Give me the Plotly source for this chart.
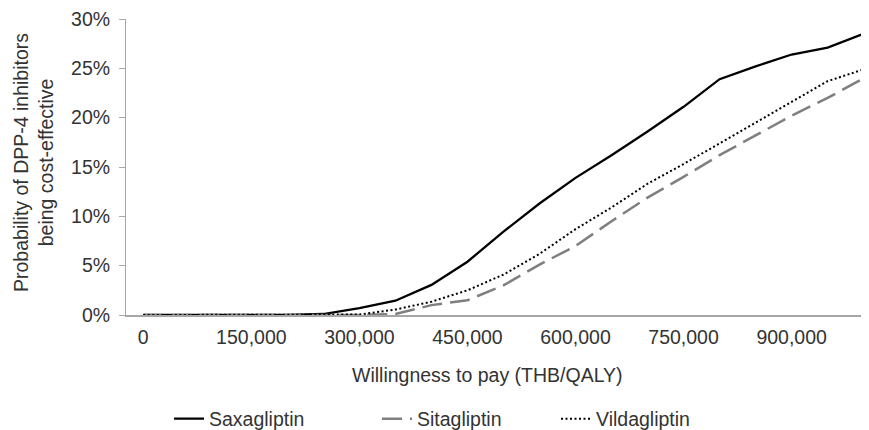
import plotly.graph_objects as go

wtp = [0, 50000, 100000, 150000, 200000, 250000, 300000, 350000, 400000, 450000,
       500000, 550000, 600000, 650000, 700000, 750000, 800000, 850000, 900000,
       950000, 1000000]
saxagliptin = [0, 0, 0, 0, 0, 0.1, 0.7, 1.45, 3.05, 5.4, 8.45, 11.3, 13.9, 16.2,
               18.6, 21.1, 23.9, 25.2, 26.4, 27.1, 28.5]
sitagliptin = [0, 0, 0, 0, 0, 0, 0, 0.1, 1.0, 1.5, 3.0, 5.1, 7.0, 9.5, 11.9,
               14.0, 16.2, 18.2, 20.2, 22.0, 24.0]
vildagliptin = [0, 0, 0, 0, 0, 0, 0.05, 0.55, 1.35, 2.5, 4.1, 6.2, 8.7, 10.9,
                13.3, 15.3, 17.4, 19.5, 21.6, 23.7, 24.9]
x_ticks = [0, 150000, 300000, 450000, 600000, 750000, 900000]
x_tick_labels = ["0", "150,000", "300,000", "450,000", "600,000", "750,000", "900,000"]
y_ticks = [0, 5, 10, 15, 20, 25, 30]
y_tick_labels = ["0%", "5%", "10%", "15%", "20%", "25%", "30%"]

FONT = "Liberation Sans, Arial, sans-serif"
TXT = "#333333"
AX = "#a6a6a6"

# page body has an 8px margin, so the figure is 8px smaller than the window
W, H = 861, 422
L, T, B = 118, 11, 115
PW, PH = W - L, H - T - B

fig = go.Figure()
fig.add_trace(go.Scatter(x=wtp, y=saxagliptin, mode="lines", name="Saxagliptin",
                         legend="legend",
                         line=dict(color="#000000", width=2.3)))
fig.add_trace(go.Scatter(x=wtp, y=sitagliptin, mode="lines", name="Sitagliptin",
                         legend="legend2",
                         line=dict(color="#7f7f7f", width=2.5, dash="20px,8px")))
fig.add_trace(go.Scatter(x=wtp, y=vildagliptin, mode="lines", name="Vildagliptin",
                         legend="legend3",
                         line=dict(color="#000000", width=2, dash="2px,2.5px")))


def leg(xpx):
    return dict(orientation="h", xref="container", yref="container",
                x=xpx / W, xanchor="left", y=1 - 411 / H, yanchor="middle",
                font=dict(size=19.5, color=TXT), bgcolor="rgba(0,0,0,0)")


fig.update_layout(
    width=W, height=H,
    margin=dict(l=L, r=0, t=T, b=B, autoexpand=False),
    paper_bgcolor="white", plot_bgcolor="white",
    font=dict(family=FONT, size=19.5, color=TXT),
    showlegend=True,
    legend=leg(161), legend2=leg(369), legend3=leg(548),
    xaxis=dict(range=[-24000, 1007400], tickvals=x_ticks, ticktext=x_tick_labels,
               showgrid=False, zeroline=False, showline=True, linecolor=AX,
               linewidth=1.5, ticks="", ticklabelstandoff=4, automargin=False,
               tickfont=dict(size=19.5, color=TXT)),
    yaxis=dict(range=[0, 30], tickvals=y_ticks, ticktext=y_tick_labels,
               showgrid=False, zeroline=False, showline=True, linecolor=AX,
               linewidth=1, ticks="outside", ticklen=6, tickcolor=AX,
               ticklabelstandoff=5, automargin=False, ticklabeloverflow="allow",
               tickfont=dict(size=19.5, color=TXT)),
)

fig.add_annotation(text="Willingness to pay (THB/QALY)", xref="paper", yref="paper",
                   x=(487 - 126) / PW, y=(315 - 375) / PH, xanchor="center",
                   yanchor="middle", showarrow=False,
                   font=dict(size=19.5, color=TXT, family=FONT))
fig.add_annotation(text="Probability of DPP-4 inhibitors<br>being cost-effective",
                   xref="paper", yref="paper", x=(33 - 126) / PW, y=(315 - 163) / PH,
                   xanchor="center", yanchor="middle", textangle=-90,
                   showarrow=False, font=dict(size=19.5, color=TXT, family=FONT))

fig.write_html("out.html")
